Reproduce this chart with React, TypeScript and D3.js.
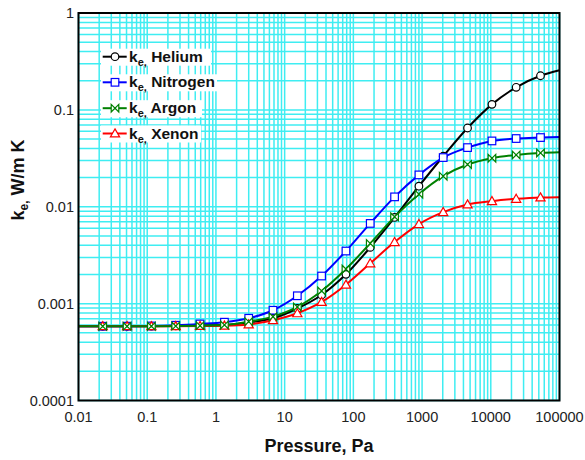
import React from 'react';
import * as d3 from 'd3';

// ---- data ----
const pressures = [0.0225, 0.0509, 0.115, 0.26, 0.587, 1.33, 3.0, 6.77, 15.3, 34.5, 78, 176, 398, 900, 2030, 4590, 10400, 23400, 52900];
const lineEndPressures = [0.01, 100000];

const helium = [0.000584, 0.000584, 0.000585, 0.000588, 0.000595, 0.000603, 0.00064, 0.000706, 0.000891, 0.001228, 0.002006, 0.003806, 0.007756, 0.0163, 0.0332, 0.065, 0.114, 0.171, 0.225];
const heliumEnds = [0.000584, 0.256];

const nitrogen = [0.000584, 0.000585, 0.000588, 0.000598, 0.000617, 0.000643, 0.000706, 0.000854, 0.001205, 0.001927, 0.00349, 0.006728, 0.01265, 0.02132, 0.0322, 0.0408, 0.0478, 0.0506, 0.0518];
const nitrogenEnds = [0.000584, 0.0525];

const argon = [0.000584, 0.000584, 0.000585, 0.000587, 0.000592, 0.000603, 0.000652, 0.000734, 0.000924, 0.00135, 0.002275, 0.004184, 0.007867, 0.01349, 0.0207, 0.0273, 0.0317, 0.0343, 0.0359];
const argonEnds = [0.000584, 0.0365];

const xenon = [0.000584, 0.000584, 0.000584, 0.000585, 0.000588, 0.000592, 0.00061, 0.000674, 0.000795, 0.00104, 0.001568, 0.002604, 0.004317, 0.00662, 0.0088, 0.01056, 0.01142, 0.01206, 0.01247];
const xenonEnds = [0.000584, 0.01256];

const seriesNames = ['Helium', 'Nitrogen', 'Argon', 'Xenon'];
const xTickValues = [0.01, 0.1, 1, 10, 100, 1000, 10000, 100000];
const xTickLabels = ['0.01', '0.1', '1', '10', '100', '1000', '10000', '100000'];
const yTickValues = [0.0001, 0.001, 0.01, 0.1, 1];
const yTickLabels = ['0.0001', '0.001', '0.01', '0.1', '1'];

// ---- layout ----
const W = 585, H = 460;
const L = 78.5, R = 559.5, T = 13, B = 400.5;
const FONT = '"Liberation Sans", Arial, Helvetica, sans-serif';
const GRID = '#3FEDF2';

const x = d3.scaleLog().domain([0.01, 100000]).range([L, R]);
const y = d3.scaleLog().domain([0.0001, 1]).range([B, T]);

type Series = { name: string; values: number[]; ends: number[]; color: string; marker: string };
const series: Series[] = [
  { name: seriesNames[0], values: helium, ends: heliumEnds, color: '#000000', marker: 'circle' },
  { name: seriesNames[1], values: nitrogen, ends: nitrogenEnds, color: '#0000FF', marker: 'square' },
  { name: seriesNames[2], values: argon, ends: argonEnds, color: '#008000', marker: 'bowtie' },
  { name: seriesNames[3], values: xenon, ends: xenonEnds, color: '#FF0000', marker: 'triangle' },
];
const drawOrder = [0, 1, 3, 2];

function Marker({ kind, cx, cy, color }: { kind: string; cx: number; cy: number; color: string }) {
  const sw = 1.2;
  if (kind === 'circle') return <circle cx={cx} cy={cy} r={3.8} fill="#fff" stroke={color} strokeWidth={sw} />;
  if (kind === 'square') return <rect x={cx - 3.8} y={cy - 3.8} width={7.6} height={7.6} fill="#fff" stroke={color} strokeWidth={sw} />;
  if (kind === 'triangle') {
    const s = 4.6;
    return <path d={`M${cx},${cy - s}L${cx + s},${cy + s * 0.75}L${cx - s},${cy + s * 0.75}Z`} fill="#fff" stroke={color} strokeWidth={sw} />;
  }
  const s = 3.8;
  return <path d={`M${cx - s},${cy - s}L${cx + s},${cy + s}L${cx + s},${cy - s}L${cx - s},${cy + s}Z`} fill="#fff" stroke={color} strokeWidth={sw} />;
}

export default function App() {
  const xGrid: number[] = [];
  for (let d = -2; d <= 4; d++) for (let k = 1; k <= 9; k++) xGrid.push(k * Math.pow(10, d));
  xGrid.push(100000);
  const yGrid: number[] = [];
  for (let d = -4; d <= -1; d++) for (let k = 1; k <= 9; k++) yGrid.push(k * Math.pow(10, d));
  yGrid.push(1);

  const line = d3.line<[number, number]>().x(d => x(d[0])).y(d => y(d[1])).curve(d3.curveMonotoneX);

  const legendY = [56.7, 82.3, 108.2, 133.5];
  const legendBoxR = [211, 217, 202, 201];

  return (
    <svg width={W} height={H} style={{ position: 'absolute', left: 0, top: 0, background: '#fff' }} fontFamily={FONT}>
      <rect x={0} y={0} width={W} height={H} fill="#fff" />
      {/* grid */}
      <g stroke={GRID} strokeWidth={1.5}>
        {xGrid.map((v, i) => <line key={'gx' + i} x1={x(v)} x2={x(v)} y1={T} y2={B} />)}
        {yGrid.map((v, i) => <line key={'gy' + i} x1={L} x2={R} y1={y(v)} y2={y(v)} />)}
      </g>
      {/* legend backgrounds */}
      {series.map((s, i) => (
        <rect key={'lb' + i} x={101} y={legendY[i] - 8} width={legendBoxR[i] - 101} height={17} fill="#fff" />
      ))}
      {/* series */}
      {drawOrder.map(si => {
        const s = series[si];
        const pts: [number, number][] = [[lineEndPressures[0], s.ends[0]], ...pressures.map((p, i) => [p, s.values[i]] as [number, number]), [lineEndPressures[1], s.ends[1]]];
        return (
          <g key={'s' + si}>
            <path d={line(pts) || ''} fill="none" stroke={s.color} strokeWidth={2} />
            {pressures.map((p, i) => <Marker key={i} kind={s.marker} cx={x(p)} cy={y(s.values[i])} color={s.color} />)}
          </g>
        );
      })}
      {/* frame */}
      <rect x={L} y={T} width={R - L} height={B - T} fill="none" stroke="#000" strokeWidth={2} />
      {/* x tick labels */}
      {xTickValues.map((v, i) => (
        <text key={'xt' + i} x={x(v)} y={421.5} textAnchor="middle" fontSize={14.5} fill="#222">{xTickLabels[i]}</text>
      ))}
      {/* y tick labels */}
      {yTickValues.map((v, i) => (
        <text key={'yt' + i} x={74} y={y(v) + 5.2} textAnchor="end" fontSize={14.5} fill="#222">{yTickLabels[i]}</text>
      ))}
      {/* axis titles */}
      <text x={(L + R) / 2} y={452} textAnchor="middle" fontSize={18} fontWeight="bold" fill="#111">Pressure, Pa</text>
      <text transform="translate(23.5,180) rotate(-90)" textAnchor="middle" fontSize={18} fontWeight="bold" fill="#111">
        k<tspan dy={4} fontSize={12}>e,</tspan><tspan dy={-4}> W/m K</tspan>
      </text>
      {/* legend */}
      {series.map((s, i) => (
        <g key={'lg' + i}>
          <line x1={102.7} x2={126.7} y1={legendY[i]} y2={legendY[i]} stroke={s.color} strokeWidth={2} />
          <Marker kind={s.marker} cx={115} cy={legendY[i]} color={s.color} />
          <text x={129} y={legendY[i] + 5} fontSize={15.5} fontWeight="bold" fill="#111">
            k<tspan dy={4} fontSize={11}>e,</tspan><tspan dy={-4}> {s.name}</tspan>
          </text>
        </g>
      ))}
    </svg>
  );
}
